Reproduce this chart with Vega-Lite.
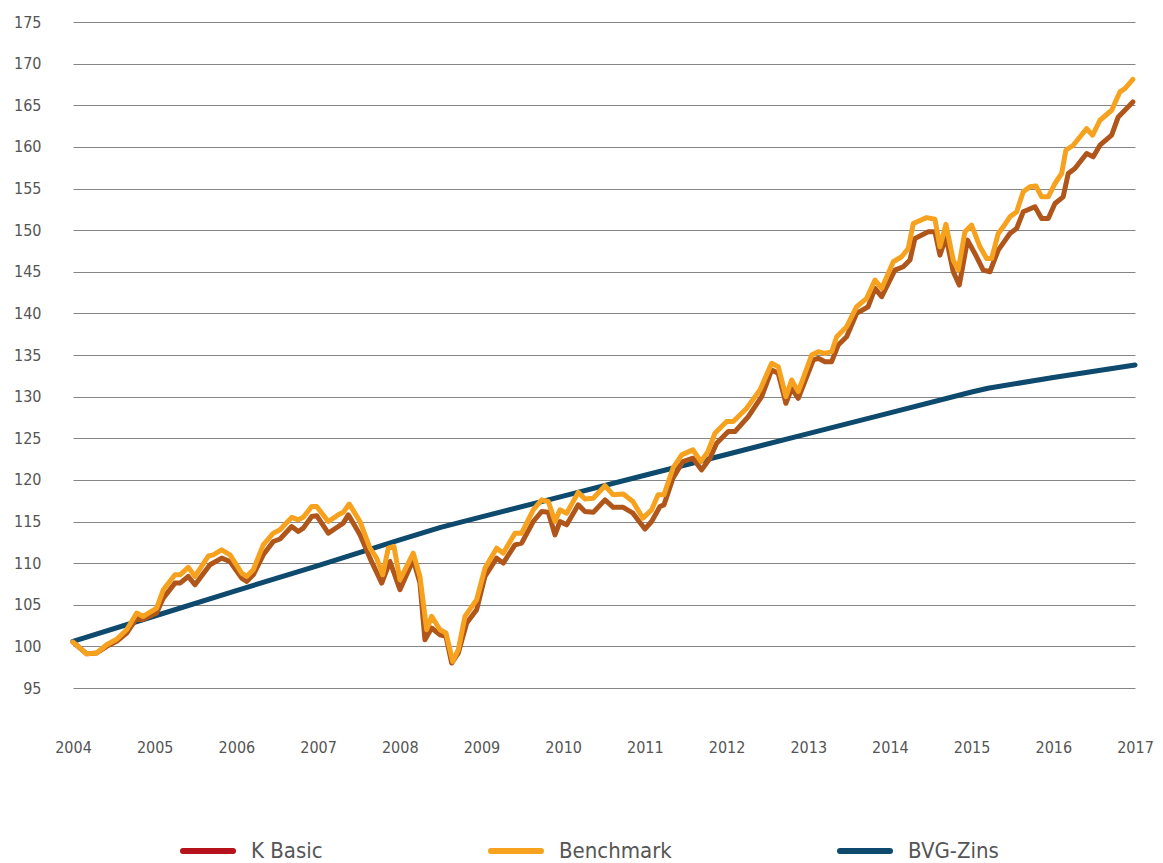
{
  "$schema": "https://vega.github.io/schema/vega-lite/v6.json",
  "width": 1062,
  "height": 666,
  "autosize": {"type": "none"},
  "padding": {"left": 73, "top": 22, "right": 28, "bottom": 175},
  "background": "white",
  "config": {
    "view": {"stroke": null},
    "font": "DejaVu Sans Condensed",
    "axis": {"labelFont": "DejaVu Sans Condensed", "labelColor": "#555555", "labelFontSize": 16, "title": null}
  },
  "datasets": {
    "bvg": [
      {"t": 2004.0, "v": 100.6}, {"t": 2005.0, "v": 103.65}, {"t": 2006.0, "v": 106.7}, {"t": 2007.0, "v": 109.7},
      {"t": 2008.0, "v": 112.8}, {"t": 2008.5, "v": 114.3}, {"t": 2009.0, "v": 115.55}, {"t": 2010.0, "v": 118.05},
      {"t": 2011.0, "v": 120.55}, {"t": 2012.0, "v": 123.05}, {"t": 2013.0, "v": 125.55}, {"t": 2014.0, "v": 128.05},
      {"t": 2015.0, "v": 130.55}, {"t": 2015.2, "v": 131.0}, {"t": 2016.0, "v": 132.3}, {"t": 2017.0, "v": 133.8}
    ],
    "kbasic": [
      {"t": 2004.0, "v": 100.5}, {"t": 2004.168, "v": 99.1}, {"t": 2004.29, "v": 99.2}, {"t": 2004.412, "v": 100.0},
      {"t": 2004.535, "v": 100.6}, {"t": 2004.657, "v": 101.6}, {"t": 2004.78, "v": 103.4}, {"t": 2004.845, "v": 103.2},
      {"t": 2005.024, "v": 104.0}, {"t": 2005.105, "v": 105.8}, {"t": 2005.248, "v": 107.6}, {"t": 2005.31, "v": 107.6},
      {"t": 2005.411, "v": 108.4}, {"t": 2005.493, "v": 107.4}, {"t": 2005.677, "v": 109.8}, {"t": 2005.82, "v": 110.6},
      {"t": 2005.922, "v": 110.2}, {"t": 2006.065, "v": 108.2}, {"t": 2006.126, "v": 107.8}, {"t": 2006.207, "v": 108.6},
      {"t": 2006.329, "v": 111.0}, {"t": 2006.452, "v": 112.6}, {"t": 2006.534, "v": 112.9}, {"t": 2006.677, "v": 114.4},
      {"t": 2006.758, "v": 113.8}, {"t": 2006.819, "v": 114.2}, {"t": 2006.922, "v": 115.6}, {"t": 2006.983, "v": 115.7},
      {"t": 2007.125, "v": 113.6}, {"t": 2007.247, "v": 114.4}, {"t": 2007.308, "v": 114.8}, {"t": 2007.37, "v": 115.8},
      {"t": 2007.513, "v": 113.4}, {"t": 2007.635, "v": 110.6}, {"t": 2007.779, "v": 107.6}, {"t": 2007.88, "v": 110.2},
      {"t": 2008.002, "v": 106.8}, {"t": 2008.165, "v": 110.4}, {"t": 2008.247, "v": 107.6}, {"t": 2008.308, "v": 100.8},
      {"t": 2008.39, "v": 102.2}, {"t": 2008.492, "v": 101.4}, {"t": 2008.566, "v": 101.2}, {"t": 2008.635, "v": 98.0},
      {"t": 2008.716, "v": 99.2}, {"t": 2008.819, "v": 102.8}, {"t": 2008.941, "v": 104.4}, {"t": 2009.043, "v": 108.4},
      {"t": 2009.186, "v": 110.6}, {"t": 2009.267, "v": 110.0}, {"t": 2009.41, "v": 112.2}, {"t": 2009.492, "v": 112.4},
      {"t": 2009.634, "v": 115.0}, {"t": 2009.737, "v": 116.2}, {"t": 2009.818, "v": 116.1}, {"t": 2009.9, "v": 113.4},
      {"t": 2009.961, "v": 115.0}, {"t": 2010.043, "v": 114.6}, {"t": 2010.185, "v": 117.0}, {"t": 2010.267, "v": 116.2},
      {"t": 2010.369, "v": 116.1}, {"t": 2010.512, "v": 117.6}, {"t": 2010.613, "v": 116.7}, {"t": 2010.736, "v": 116.7},
      {"t": 2010.854, "v": 116.0}, {"t": 2011.001, "v": 114.1}, {"t": 2011.083, "v": 115.0}, {"t": 2011.185, "v": 116.8},
      {"t": 2011.234, "v": 117.0}, {"t": 2011.344, "v": 120.2}, {"t": 2011.466, "v": 122.2}, {"t": 2011.589, "v": 122.6},
      {"t": 2011.695, "v": 121.2}, {"t": 2011.797, "v": 122.6}, {"t": 2011.879, "v": 124.4}, {"t": 2012.021, "v": 125.8},
      {"t": 2012.103, "v": 125.8}, {"t": 2012.266, "v": 127.6}, {"t": 2012.43, "v": 130.0}, {"t": 2012.552, "v": 133.2},
      {"t": 2012.633, "v": 132.8}, {"t": 2012.727, "v": 129.2}, {"t": 2012.797, "v": 131.0}, {"t": 2012.878, "v": 129.8},
      {"t": 2013.061, "v": 134.4}, {"t": 2013.123, "v": 134.6}, {"t": 2013.205, "v": 134.2}, {"t": 2013.287, "v": 134.2},
      {"t": 2013.367, "v": 136.2}, {"t": 2013.47, "v": 137.2}, {"t": 2013.593, "v": 140.0}, {"t": 2013.734, "v": 140.8},
      {"t": 2013.817, "v": 143.0}, {"t": 2013.899, "v": 142.0}, {"t": 2014.061, "v": 145.2}, {"t": 2014.163, "v": 145.6},
      {"t": 2014.245, "v": 146.4}, {"t": 2014.306, "v": 149.0}, {"t": 2014.469, "v": 149.8}, {"t": 2014.551, "v": 149.8},
      {"t": 2014.612, "v": 147.0}, {"t": 2014.686, "v": 149.2}, {"t": 2014.775, "v": 145.0}, {"t": 2014.849, "v": 143.4},
      {"t": 2014.95, "v": 148.8}, {"t": 2015.061, "v": 146.8}, {"t": 2015.142, "v": 145.2}, {"t": 2015.224, "v": 145.0},
      {"t": 2015.326, "v": 147.6}, {"t": 2015.469, "v": 149.6}, {"t": 2015.551, "v": 150.2}, {"t": 2015.632, "v": 152.2},
      {"t": 2015.775, "v": 152.8}, {"t": 2015.857, "v": 151.4}, {"t": 2015.938, "v": 151.4}, {"t": 2016.02, "v": 153.2},
      {"t": 2016.121, "v": 154.0}, {"t": 2016.183, "v": 156.8}, {"t": 2016.264, "v": 157.4}, {"t": 2016.408, "v": 159.2},
      {"t": 2016.489, "v": 158.8}, {"t": 2016.571, "v": 160.2}, {"t": 2016.714, "v": 161.4}, {"t": 2016.795, "v": 163.6},
      {"t": 2016.876, "v": 164.4}, {"t": 2016.974, "v": 165.4}
    ],
    "bench": [
      {"t": 2004.0, "v": 100.5}, {"t": 2004.168, "v": 99.1}, {"t": 2004.29, "v": 99.2}, {"t": 2004.412, "v": 100.2},
      {"t": 2004.535, "v": 100.85}, {"t": 2004.657, "v": 102.0}, {"t": 2004.78, "v": 104.0}, {"t": 2004.86, "v": 103.6},
      {"t": 2005.024, "v": 104.6}, {"t": 2005.105, "v": 106.8}, {"t": 2005.248, "v": 108.6}, {"t": 2005.31, "v": 108.6},
      {"t": 2005.411, "v": 109.5}, {"t": 2005.493, "v": 108.4}, {"t": 2005.656, "v": 110.85}, {"t": 2005.717, "v": 111.0},
      {"t": 2005.82, "v": 111.6}, {"t": 2005.922, "v": 111.0}, {"t": 2006.065, "v": 108.8}, {"t": 2006.126, "v": 108.4},
      {"t": 2006.207, "v": 109.2}, {"t": 2006.329, "v": 112.2}, {"t": 2006.452, "v": 113.6}, {"t": 2006.534, "v": 114.0},
      {"t": 2006.677, "v": 115.5}, {"t": 2006.758, "v": 115.2}, {"t": 2006.819, "v": 115.5}, {"t": 2006.922, "v": 116.8},
      {"t": 2006.983, "v": 116.8}, {"t": 2007.125, "v": 115.0}, {"t": 2007.247, "v": 115.8}, {"t": 2007.308, "v": 116.1},
      {"t": 2007.382, "v": 117.1}, {"t": 2007.513, "v": 115.0}, {"t": 2007.635, "v": 111.8}, {"t": 2007.717, "v": 110.6},
      {"t": 2007.791, "v": 108.6}, {"t": 2007.859, "v": 111.8}, {"t": 2007.929, "v": 112.0}, {"t": 2008.002, "v": 108.0},
      {"t": 2008.165, "v": 111.2}, {"t": 2008.247, "v": 108.4}, {"t": 2008.329, "v": 102.0}, {"t": 2008.39, "v": 103.6},
      {"t": 2008.492, "v": 102.0}, {"t": 2008.566, "v": 101.6}, {"t": 2008.648, "v": 98.2}, {"t": 2008.716, "v": 99.6},
      {"t": 2008.798, "v": 103.6}, {"t": 2008.941, "v": 105.6}, {"t": 2009.043, "v": 109.4}, {"t": 2009.186, "v": 111.8},
      {"t": 2009.267, "v": 111.2}, {"t": 2009.41, "v": 113.6}, {"t": 2009.492, "v": 113.6}, {"t": 2009.634, "v": 116.4},
      {"t": 2009.737, "v": 117.6}, {"t": 2009.818, "v": 117.4}, {"t": 2009.9, "v": 115.0}, {"t": 2009.961, "v": 116.4},
      {"t": 2010.043, "v": 116.0}, {"t": 2010.185, "v": 118.5}, {"t": 2010.267, "v": 117.7}, {"t": 2010.369, "v": 117.8},
      {"t": 2010.512, "v": 119.3}, {"t": 2010.613, "v": 118.2}, {"t": 2010.736, "v": 118.3}, {"t": 2010.854, "v": 117.4},
      {"t": 2010.977, "v": 115.4}, {"t": 2011.083, "v": 116.4}, {"t": 2011.161, "v": 118.2}, {"t": 2011.234, "v": 118.2},
      {"t": 2011.344, "v": 121.4}, {"t": 2011.451, "v": 123.0}, {"t": 2011.589, "v": 123.6}, {"t": 2011.687, "v": 122.2},
      {"t": 2011.772, "v": 123.4}, {"t": 2011.858, "v": 125.6}, {"t": 2012.001, "v": 127.0}, {"t": 2012.082, "v": 127.0},
      {"t": 2012.246, "v": 128.6}, {"t": 2012.409, "v": 130.8}, {"t": 2012.552, "v": 134.0}, {"t": 2012.633, "v": 133.6},
      {"t": 2012.727, "v": 130.0}, {"t": 2012.797, "v": 132.0}, {"t": 2012.878, "v": 130.6}, {"t": 2013.042, "v": 135.0},
      {"t": 2013.123, "v": 135.4}, {"t": 2013.205, "v": 135.2}, {"t": 2013.287, "v": 135.4}, {"t": 2013.348, "v": 137.2},
      {"t": 2013.47, "v": 138.4}, {"t": 2013.593, "v": 140.8}, {"t": 2013.715, "v": 141.8}, {"t": 2013.817, "v": 144.0},
      {"t": 2013.899, "v": 143.0}, {"t": 2014.041, "v": 146.2}, {"t": 2014.143, "v": 146.8}, {"t": 2014.224, "v": 147.8},
      {"t": 2014.286, "v": 150.8}, {"t": 2014.449, "v": 151.5}, {"t": 2014.551, "v": 151.3}, {"t": 2014.612, "v": 148.0},
      {"t": 2014.686, "v": 150.7}, {"t": 2014.775, "v": 146.4}, {"t": 2014.836, "v": 145.2}, {"t": 2014.918, "v": 149.8},
      {"t": 2015.0, "v": 150.6}, {"t": 2015.102, "v": 148.0}, {"t": 2015.184, "v": 146.6}, {"t": 2015.245, "v": 146.6},
      {"t": 2015.326, "v": 149.6}, {"t": 2015.387, "v": 150.4}, {"t": 2015.469, "v": 151.6}, {"t": 2015.551, "v": 152.2},
      {"t": 2015.632, "v": 154.6}, {"t": 2015.714, "v": 155.2}, {"t": 2015.787, "v": 155.3}, {"t": 2015.857, "v": 154.0},
      {"t": 2015.938, "v": 154.0}, {"t": 2016.02, "v": 155.6}, {"t": 2016.102, "v": 156.8}, {"t": 2016.154, "v": 159.6},
      {"t": 2016.244, "v": 160.2}, {"t": 2016.408, "v": 162.2}, {"t": 2016.481, "v": 161.4}, {"t": 2016.571, "v": 163.2},
      {"t": 2016.714, "v": 164.4}, {"t": 2016.815, "v": 166.6}, {"t": 2016.876, "v": 167.0}, {"t": 2016.974, "v": 168.1}
    ]
  },
  "encoding": {
    "x": {
      "field": "t", "type": "quantitative",
      "scale": {"domain": [2004, 2017], "nice": false, "zero": false},
      "axis": {
        "values": [2004, 2005, 2006, 2007, 2008, 2009, 2010, 2011, 2012, 2013, 2014, 2015, 2016, 2017],
        "format": "d", "grid": false, "domain": false, "ticks": false,
        "labelPadding": 51, "labelFlush": false, "labelOverlap": false
      }
    },
    "y": {
      "field": "v", "type": "quantitative",
      "scale": {"domain": [95, 175], "nice": false, "zero": false},
      "axis": {
        "values": [95, 100, 105, 110, 115, 120, 125, 130, 135, 140, 145, 150, 155, 160, 165, 170, 175],
        "grid": true, "gridColor": "#858585", "gridWidth": 1, "domain": false, "ticks": false,
        "labelPadding": 32, "labelOverlap": false
      }
    }
  },
  "layer": [
    {
      "data": {"name": "bvg"},
      "mark": {"type": "line", "strokeWidth": 5, "strokeCap": "round", "strokeJoin": "round"},
      "encoding": {"color": {"datum": "BVG-Zins"}}
    },
    {
      "data": {"name": "kbasic"},
      "mark": {"type": "line", "color": "#b0561a", "strokeWidth": 5, "strokeCap": "round", "strokeJoin": "round"},
      "encoding": {}
    },
    {
      "data": {"name": "bench"},
      "mark": {"type": "line", "strokeWidth": 5, "strokeCap": "round", "strokeJoin": "round"},
      "encoding": {
        "color": {
          "datum": "Benchmark",
          "scale": {"domain": ["K Basic", "Benchmark", "BVG-Zins"], "range": ["#b5121b", "#f7a21e", "#0d4a6d"]},
          "legend": {
            "title": null,
            "orient": "none",
            "direction": "horizontal",
            "legendX": 107,
            "legendY": 801,
            "padding": 0,
            "symbolType": "stroke",
            "symbolSize": 2500,
            "symbolStrokeWidth": 6,
            "labelFont": "DejaVu Sans Condensed",
            "labelFontSize": 22,
            "labelColor": "#555555",
            "labelOffset": 15,
            "columnPadding": 156,
            "labelLimit": 300,
            "encode": {
              "symbols": {
                "update": {
                  "strokeCap": {"value": "round"}
                }
              }
            }
          }
        }
      }
    }
  ]
}
